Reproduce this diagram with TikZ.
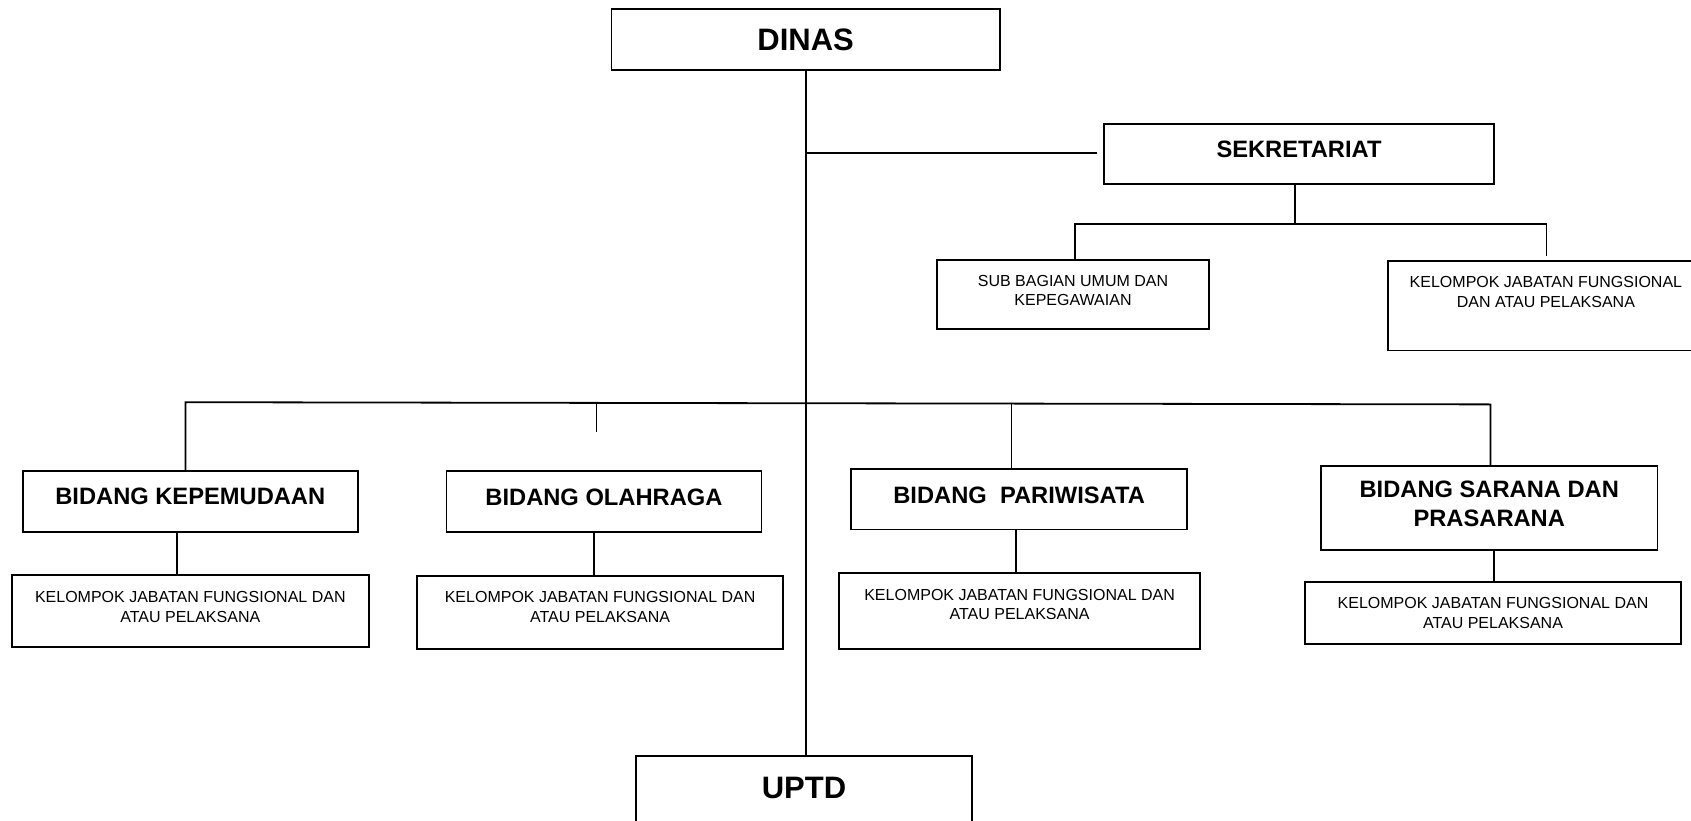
\documentclass[tikz,border=0pt]{standalone}
\usepackage{fontspec}
\setmainfont{Liberation Sans}
\begin{document}
\begin{tikzpicture}[x=1pt,y=-1pt,
  box/.style={draw=black, rectangle, inner sep=0pt, line width=1.8pt},
  bigtxt/.style={font=\fontsize{31}{36}\selectfont\bfseries},
  midtxt/.style={font=\fontsize{23.7}{29}\selectfont\bfseries, align=center, text depth=10pt},
  smalltxt/.style={font=\fontsize{16}{19.4}\selectfont, align=center, inner sep=0pt, anchor=north},
  conn/.style={draw=black, line width=1.8pt}]
\useasboundingbox (0,0) rectangle (1691,821);
\clip (0,0) rectangle (1691,821);

% top level
\node[box, bigtxt, minimum width=388.2pt, minimum height=61.5pt] (dinas) at (805.6,39.4) {DINAS};
\node[box, midtxt, minimum width=389.3pt, minimum height=60.4pt, text depth=10.8pt] (sek) at (1299,154.2) {SEKRETARIAT};

% secretariat children
\node[box, minimum width=271.8pt, minimum height=69pt] (sub) at (1073,294.4) {};
\node[smalltxt] (subt) at (1073,275) {SUB BAGIAN UMUM DAN\\KEPEGAWAIAN};
\node[box, minimum width=312.1pt, minimum height=89.5pt] (skjf) at (1543.95,305.75) {};
\node[smalltxt] (skjft) at (1545.9,276.3) {KELOMPOK JABATAN FUNGSIONAL\\DAN ATAU PELAKSANA};

% bidang
\node[box, midtxt, minimum width=335.4pt, minimum height=60.3pt] (bk) at (190.3,501.45) {BIDANG KEPEMUDAAN};
\node[box, midtxt, minimum width=314.9pt, minimum height=60.3pt, text depth=9pt] (bo) at (603.95,501.45) {BIDANG OLAHRAGA};
\node[box, midtxt, minimum width=336.4pt, minimum height=60.4pt, text depth=8.6pt] (bp) at (1019.1,499.3) {BIDANG~~PARIWISATA};
\node[box, midtxt, minimum width=336.5pt, minimum height=84.1pt, text depth=7.6pt] (bs) at (1489.25,507.95) {BIDANG SARANA DAN\\PRASARANA};

% kelompok boxes
\node[box, minimum width=356.9pt, minimum height=72.2pt] (k1) at (190.35,610.9) {};
\node[smalltxt] (k1t) at (190.3,591.6) {KELOMPOK JABATAN FUNGSIONAL DAN\\ATAU PELAKSANA};
\node[box, minimum width=365.6pt, minimum height=73.3pt] (k2) at (600.1,612.55) {};
\node[smalltxt] (k2t) at (600.1,591.6) {KELOMPOK JABATAN FUNGSIONAL DAN\\ATAU PELAKSANA};
\node[box, minimum width=361.3pt, minimum height=76.6pt] (k3) at (1019.65,610.9) {};
\node[smalltxt] (k3t) at (1019.6,589.2) {KELOMPOK JABATAN FUNGSIONAL DAN\\ATAU PELAKSANA};
\node[box, minimum width=376.3pt, minimum height=61.5pt] (k4) at (1493.05,613.05) {};
\node[smalltxt] (k4t) at (1493,597.5) {KELOMPOK JABATAN FUNGSIONAL DAN\\ATAU PELAKSANA};

% UPTD
\node[box, minimum width=335.3pt, minimum height=84pt] (uptd) at (803.95,798) {};
\node[bigtxt] (uptdt) at (803.95,788.3) {UPTD};

% main trunk
\draw[conn] (dinas.south) -- (dinas.south |- uptd.north);

% branch to sekretariat
\coordinate (sb) at (805.6,153.1);
\coordinate (sbe) at (1096.7,153.1);
\draw[conn] (sb) -- (sbe);

% sekretariat children
\coordinate (sj) at (1295.2,224.3);
\coordinate (sl) at (1075.2,224.3);
\coordinate (sr) at (1546.4,224.3);
\coordinate (sre) at (1546.4,255.6);
\draw[conn] (sek.south -| sj) -- (sj);
\draw[conn] (sl |- sub.north) -- (sl) -- (sr) -- (sre);

% bidang bus
\coordinate (bl) at (185.5,402.2);
\coordinate (br) at (1490.4,404.4);
\draw[conn] (bl |- bk.north) -- (bl) -- (br) -- (br |- bs.north);
\coordinate (bot) at (596.4,402.6);
\coordinate (boe) at (596.4,432.4);
\draw[conn] (bot) -- (boe);
\coordinate (bpt) at (1011.5,403.6);
\draw[conn] (bpt) -- (bpt |- bp.north);

% bidang to kelompok
\coordinate (c1) at (176.9,0);
\coordinate (c2) at (594.2,0);
\coordinate (c3) at (1015.9,0);
\coordinate (c4) at (1493.6,0);
\draw[conn] (bk.south -| c1) -- (k1.north -| c1);
\draw[conn] (bo.south -| c2) -- (k2.north -| c2);
\draw[conn] (bp.south -| c3) -- (k3.north -| c3);
\draw[conn] (bs.south -| c4) -- (k4.north -| c4);
\end{tikzpicture}
\end{document}
